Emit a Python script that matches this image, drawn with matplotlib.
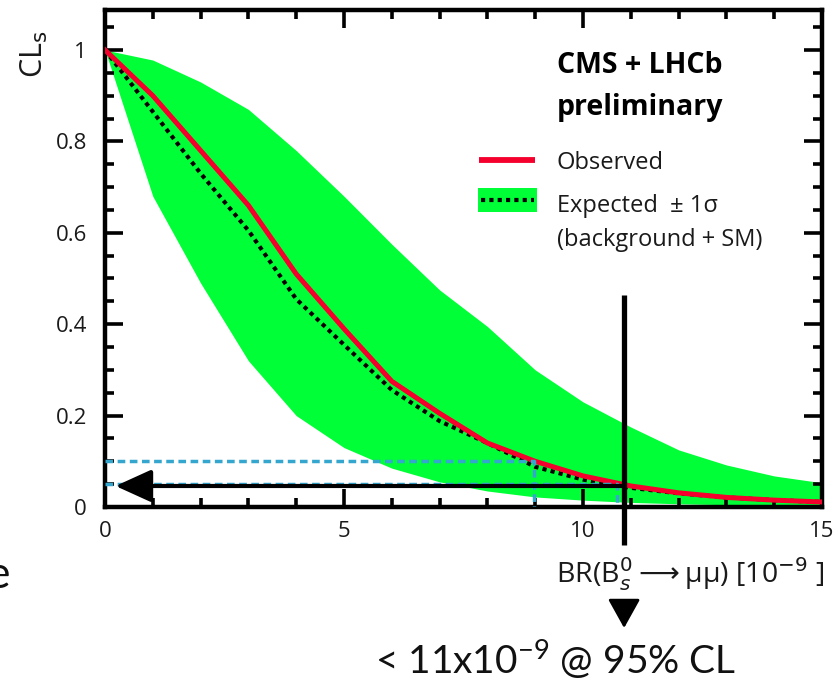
import matplotlib
matplotlib.use("Agg")
import matplotlib.pyplot as plt
from matplotlib.lines import Line2D
from matplotlib.patches import Rectangle
from matplotlib.collections import LineCollection
from matplotlib.ticker import FixedLocator, FuncFormatter

plt.rcParams['font.family'] = ['Open Sans', 'DejaVu Sans']

# CLs scan versus BR(Bs -> mu mu) in units of 1e-9
br = [0, 1, 2, 3, 4, 5, 6, 7, 8, 9, 10, 11, 12, 13, 14, 15]
observed = [1.0, 0.90, 0.78, 0.66, 0.51, 0.39, 0.275, 0.205, 0.14, 0.10,
            0.068, 0.046, 0.031, 0.021, 0.015, 0.011]
expected = [1.0, 0.865, 0.73, 0.605, 0.455, 0.355, 0.256, 0.188, 0.14, 0.088,
            0.06, 0.042, 0.03, 0.021, 0.015, 0.011]
band_hi = [1.0, 0.978, 0.93, 0.87, 0.78, 0.68, 0.575, 0.475, 0.395, 0.30,
           0.23, 0.175, 0.125, 0.092, 0.068, 0.053]
band_lo = [1.0, 0.68, 0.49, 0.32, 0.20, 0.13, 0.085, 0.055, 0.035, 0.022,
           0.015, 0.01, 0.007, 0.005, 0.003, 0.002]

cl90, br90 = 0.10, 8.97
cl95, br95 = 0.05, 10.72
limit = 10.86
arrow_cl = 0.046

x_major = [0, 5, 10, 15]
x_minor = list(range(16))
y_major = [0, 0.2, 0.4, 0.6, 0.8, 1.0]
y_minor = [round(0.05 * i, 2) for i in range(22)]

green = '#00ff36'
red = '#f5002d'
blue = '#35a7cf'


def ylab(v, pos):
    if abs(v) < 1e-9:
        return '0'
    if abs(v - 1) < 1e-9:
        return '1'
    return f'{v:.1f}'


fig = plt.figure(figsize=(8.38, 6.82), dpi=100)
ax = fig.add_axes([105 / 838, 1 - 507 / 682, 717 / 838, 497 / 682])

ax.fill_between(br, band_lo, band_hi, color=green, lw=0, zorder=1)
ax.plot(br, expected, color='black', lw=3, ls=(0, (1, 1)), zorder=3)
ax.plot(br, observed, color=red, lw=3.6, zorder=4)

# 90% and 95% CL guide lines
ax.plot([0, br90, br90], [cl90, cl90, 0], color=blue, lw=2.5,
        ls=(0, (2.2, 1.3)), zorder=5)
ax.plot([0, br95, br95], [cl95, cl95, 0], color=blue, lw=2.5,
        ls=(0, (2.2, 1.3)), zorder=5)

# arrow to the limit
ax.annotate('', xy=(0.22, arrow_cl), xytext=(limit, arrow_cl),
            arrowprops=dict(arrowstyle='-|>,head_length=1.1,head_width=0.5',
                            color='black', lw=3, shrinkA=0, shrinkB=0,
                            mutation_scale=20), zorder=6)
ax.plot([limit, limit], [-0.083, 0.464], color='black', lw=3.8,
        clip_on=False, zorder=7, solid_capstyle='butt')

ax.xaxis.set_major_locator(FixedLocator(x_major))
ax.yaxis.set_major_locator(FixedLocator(y_major))
ax.yaxis.set_major_formatter(FuncFormatter(ylab))
ax.tick_params(which='both', length=0, labelsize=16, labelcolor='#1a1a1a')
ax.tick_params(axis='x', pad=10)
ax.tick_params(axis='y', pad=13)
for s in ax.spines.values():
    s.set_linewidth(3.2)

# inward tick marks on all four sides, drawn as segments
xl, xs = 18 / 497, 9 / 497
yl, ys = 18 / 717, 9 / 717
segs_x = []
for v in x_minor:
    h = xl if v in x_major else xs
    segs_x += [[(v, 0), (v, h)], [(v, 1), (v, 1 - h)]]
segs_y = []
for v in y_minor:
    h = yl if any(abs(v - m) < 1e-9 for m in y_major) else ys
    segs_y += [[(0, v), (h, v)], [(1, v), (1 - h, v)]]
ax.add_collection(LineCollection(segs_x, transform=ax.get_xaxis_transform(),
                                 colors='black', linewidths=2.6, zorder=2.6),
                  autolim=False)
ax.add_collection(LineCollection(segs_y, transform=ax.get_yaxis_transform(),
                                 colors='black', linewidths=2.6, zorder=2.6),
                  autolim=False)

ax.set_xlim(0, 15)
ax.set_ylim(0, 1.0875)

ax.text(-0.098, 0.912, r'CL$_{\rm s}$', transform=ax.transAxes, rotation=90,
        fontsize=22, ha='center', va='center', color='#1a1a1a')
ax.text(1.004, -0.153, r'BR(B$^0_{s}$$\longrightarrow$μμ) [10$^{-9}$ ]',
        transform=ax.transAxes, ha='right', va='baseline', fontsize=20.5,
        color='#1a1a1a', clip_on=False)

# legend block
tx = 0.6304
ax.text(tx, 0.8732, 'CMS + LHCb', transform=ax.transAxes, fontsize=20.5,
        fontweight='bold', va='baseline')
ax.text(tx, 0.7887, 'preliminary', transform=ax.transAxes, fontsize=20.5,
        fontweight='bold', va='baseline')
ax.add_line(Line2D([0.5216, 0.5997], [0.698, 0.698], transform=ax.transAxes,
                   color=red, lw=4.2, solid_capstyle='butt', zorder=8))
ax.add_patch(Rectangle((0.520, 0.5936), 0.0825, 0.0483,
                       transform=ax.transAxes, color=green, lw=0, zorder=8))
ax.add_line(Line2D([0.525, 0.598], [0.6177, 0.6177], transform=ax.transAxes,
                   color='black', lw=3, ls=(0, (1, 1)), zorder=9))
ax.text(tx, 0.680, 'Observed', transform=ax.transAxes, fontsize=17,
        va='baseline', color='#1a1a1a')
ax.text(tx, 0.5936, 'Expected  ± 1σ', transform=ax.transAxes, fontsize=17,
        va='baseline', color='#1a1a1a')
ax.text(tx, 0.5252, '(background + SM)', transform=ax.transAxes,
        fontsize=17, va='baseline', color='#1a1a1a')

# arrow down to the quoted limit
ax.annotate('', xy=(limit, -0.2435), xytext=(limit, -0.19),
            xycoords=ax.get_xaxis_transform(),
            arrowprops=dict(arrowstyle='-|>,head_length=0.9,head_width=0.5',
                            color='black', lw=2, shrinkA=0, shrinkB=0,
                            mutation_scale=20), annotation_clip=False)

fig.text(375 / 838, 1 - 675 / 682, r'< 11x10$^{\mathregular{-9}}$ @ 95% CL',
         fontsize=28, family=['Lato', 'DejaVu Sans'], va='baseline',
         ha='left', color='#111111')
fig.text(10 / 838, 1 - 588 / 682, 'e', fontsize=32,
         family=['Lato', 'DejaVu Sans'], va='baseline', ha='right',
         color='#111111')

fig.savefig('out.png', dpi=100)
